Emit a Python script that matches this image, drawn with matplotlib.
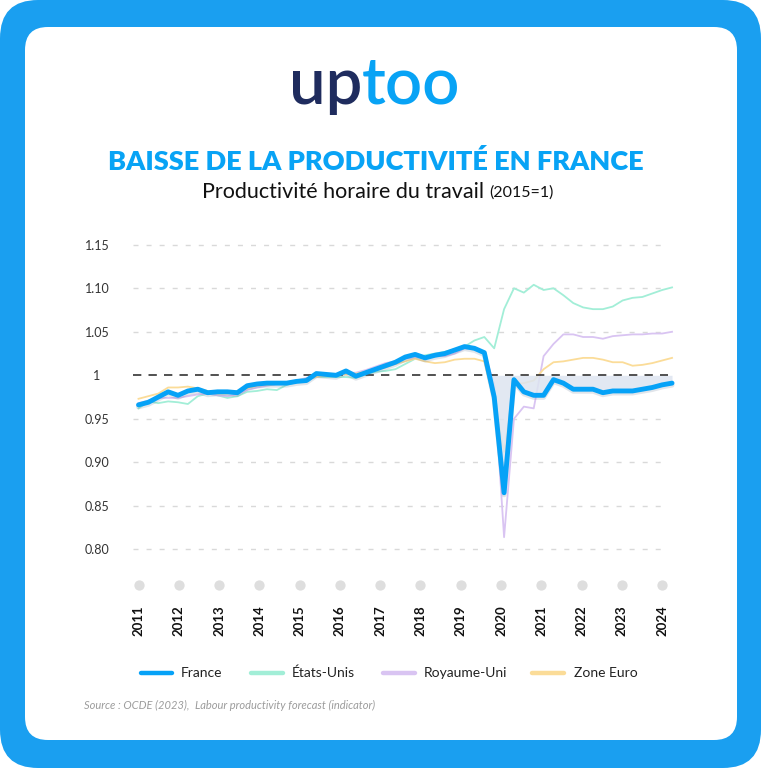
import numpy as np
import matplotlib
matplotlib.use("Agg")
import matplotlib.pyplot as plt
import matplotlib.patheffects as pe
from matplotlib.patches import FancyBboxPatch
from matplotlib.lines import Line2D
from matplotlib.transforms import blended_transform_factory

plt.rcParams['font.family'] = ['Lato', 'DejaVu Sans']

# quarterly series, 2011Q1 -> 2024Q3 (2015 = 1)
france = [0.966, 0.969, 0.975, 0.981, 0.977, 0.982, 0.984, 0.980, 0.981, 0.981,
          0.980, 0.988, 0.990, 0.991, 0.991, 0.991, 0.993, 0.994, 1.002, 1.001,
          1.000, 1.005, 0.999, 1.003, 1.007, 1.011, 1.015, 1.021, 1.024, 1.020,
          1.023, 1.025, 1.029, 1.033, 1.031, 1.026, 0.975, 0.865, 0.995, 0.981,
          0.977, 0.977, 0.995, 0.991, 0.984, 0.984, 0.984, 0.980, 0.982, 0.982,
          0.982, 0.984, 0.986, 0.989, 0.991]
etats_unis = [0.962, 0.970, 0.968, 0.970, 0.969, 0.967, 0.976, 0.979, 0.977, 0.974,
              0.976, 0.981, 0.982, 0.984, 0.983, 0.989, 0.992, 0.996, 0.998, 0.998,
              0.998, 0.998, 0.997, 1.001, 1.004, 1.005, 1.007, 1.013, 1.019, 1.023,
              1.025, 1.027, 1.030, 1.033, 1.040, 1.044, 1.031, 1.076, 1.100, 1.095,
              1.104, 1.098, 1.100, 1.092, 1.083, 1.078, 1.076, 1.076, 1.079, 1.086,
              1.089, 1.090, 1.094, 1.098, 1.101]
royaume_uni = [0.968, 0.971, 0.974, 0.974, 0.974, 0.976, 0.978, 0.979, 0.977, 0.976,
               0.978, 0.983, 0.986, 0.988, 0.990, 0.992, 0.994, 0.997, 0.998, 1.000,
               1.001, 1.003, 1.003, 1.006, 1.010, 1.014, 1.016, 1.019, 1.020, 1.021,
               1.022, 1.022, 1.025, 1.031, 1.030, 1.025, 0.990, 0.814, 0.950, 0.964,
               0.962, 1.022, 1.036, 1.047, 1.047, 1.044, 1.044, 1.042, 1.045, 1.046,
               1.047, 1.047, 1.048, 1.048, 1.050]
zone_euro = [0.973, 0.976, 0.979, 0.986, 0.986, 0.987, 0.985, 0.982, 0.979, 0.979,
             0.982, 0.985, 0.988, 0.989, 0.990, 0.991, 0.993, 0.996, 0.998, 1.000,
             1.001, 1.001, 1.002, 1.004, 1.006, 1.009, 1.013, 1.016, 1.019, 1.016,
             1.014, 1.015, 1.018, 1.019, 1.019, 1.016, 0.970, 0.912, 0.990, 0.991,
             0.994, 1.007, 1.015, 1.016, 1.018, 1.020, 1.020, 1.018, 1.015, 1.015,
             1.011, 1.012, 1.014, 1.017, 1.020]
years = [str(y) for y in range(2011, 2025)]
ytick_vals = [1.15, 1.10, 1.05, 1.0, 0.95, 0.90, 0.85, 0.80]
ytick_labels = ["1.15", "1.10", "1.05", "1", "0.95", "0.90", "0.85", "0.80"]

series = [
    ("États-Unis", etats_unis, "#a2eed7"),
    ("Royaume-Uni", royaume_uni, "#d9c4f2"),
    ("Zone Euro", zone_euro, "#fbdc98"),
]
BLUE = "#06a2f7"

W, H = 761, 768
fig = plt.figure(figsize=(W / 100, H / 100), dpi=100)


def fx(px):
    return px / W


def fy(py):
    return 1 - py / H


# frame: blue rounded border + white card
fig.patches.append(FancyBboxPatch((0, 0), 1, 1, boxstyle="round,pad=0,rounding_size=0.05",
                                  transform=fig.transFigure, fc="#1a9ff0", ec="none", zorder=0))
fig.patches.append(FancyBboxPatch((fx(25), fy(740)), fx(737) - fx(25), fy(27) - fy(740),
                                  boxstyle="round,pad=0,rounding_size=0.03",
                                  transform=fig.transFigure, fc="white", ec="none", zorder=1))

# logo
fig.text(fx(362), fy(104), "up", color="#1f2c5e", fontsize=47, fontweight="semibold",
         ha="right", va="baseline")
fig.text(fx(362), fy(104), "too", color="#08a3f5", fontsize=47, fontweight="semibold",
         ha="left", va="baseline")

# titles
fig.text(fx(376), fy(161), "BAISSE DE LA PRODUCTIVITÉ EN FRANCE", color="#08a3f5",
         fontsize=19.5, fontweight="heavy", ha="center", va="center")
fig.text(fx(484), fy(192), "Productivité horaire du travail", color="#111111",
         fontsize=15.5, ha="right", va="center")
fig.text(fx(489), fy(193), "(2015=1)", color="#111111", fontsize=11.5, ha="left", va="center")

# chart
ax = fig.add_axes([fx(133), fy(553.7), fx(676) - fx(133), fy(240.4) - fy(553.7)])
ax.set_zorder(5)
ax.patch.set_visible(False)
x = np.arange(len(france))
fr = np.array(france)

ax.set_xlim(-0.557, 54.4)
ax.set_ylim(0.795, 1.155)

x_end = (668 - 138.5) / 9.88
for v in ytick_vals:
    if v == 1.0:
        continue
    ax.hlines(v, -0.557, x_end, colors="#d9d9d9", lw=1.0, linestyles=(0, (3.6, 5.8)), zorder=1)

for name, vals, col in series:
    ax.plot(x, vals, color=col, lw=1.3, zorder=2, solid_joinstyle="round")

mask = x >= 35
ax.fill_between(x[mask], fr[mask], 1, where=fr[mask] < 1, interpolate=True,
                color="#dde5f0", alpha=0.85, lw=0, zorder=3)
ax.hlines(1.0, -0.557, x_end, colors="#333333", lw=1.2, linestyles=(0, (5, 4.3)), zorder=4)

ax.plot(x, france, color=BLUE, lw=3.5, zorder=5, solid_joinstyle="round",
        solid_capstyle="round",
        path_effects=[pe.SimpleLineShadow(offset=(0, -1.5), shadow_color="#6b7d99", alpha=0.2),
                      pe.Normal()])

for s in ax.spines.values():
    s.set_visible(False)
ax.set_yticks(ytick_vals)
ax.set_yticklabels(ytick_labels, fontsize=9, color="#333333")
ax.tick_params(axis="y", length=0, pad=26)
for lab in ax.get_yticklabels():
    lab.set_ha("center")

# year markers below the plot
year_pos = np.linspace(0, 53, len(years))
ax.set_xticks([])
trans = blended_transform_factory(ax.transData, ax.transAxes)
ax.scatter(year_pos, [-0.1] * len(years), s=55, color="#dedede", transform=trans,
           clip_on=False, zorder=2, lw=0)
for p, lab in zip(year_pos, years):
    ax.text(p, -0.215, lab, transform=trans, rotation=90, ha="center", va="center",
            fontsize=9.5, fontweight="bold", color="#111111")

# legend
legend_items = [("France", BLUE, 141, 172, 181)] + [
    (name, col, x0, x1, tx) for (name, _, col), (x0, x1, tx) in
    zip(series, [(251, 283, 292), (383, 415, 424), (532, 564, 574)])
]
for name, col, x0, x1, tx in legend_items:
    fig.add_artist(Line2D([fx(x0), fx(x1)], [fy(673), fy(673)], color=col, lw=3.2,
                          solid_capstyle="round", transform=fig.transFigure))
    fig.text(fx(tx), fy(673), name, fontsize=10, color="#222222", ha="left", va="center")

# source line, second half placed right after the first
src1 = fig.text(fx(84), fy(705), "Source : OCDE (2023), ", fontsize=8, color="#9c9c9c",
                ha="left", va="center", style="italic")
renderer = fig.canvas.get_renderer()
bb = src1.get_window_extent(renderer)
fig.text(bb.x1 / W + fx(3), fy(705), "Labour productivity forecast (indicator)", fontsize=8,
         color="#9c9c9c", ha="left", va="center", style="italic")

fig.savefig("out.png", dpi=100)
